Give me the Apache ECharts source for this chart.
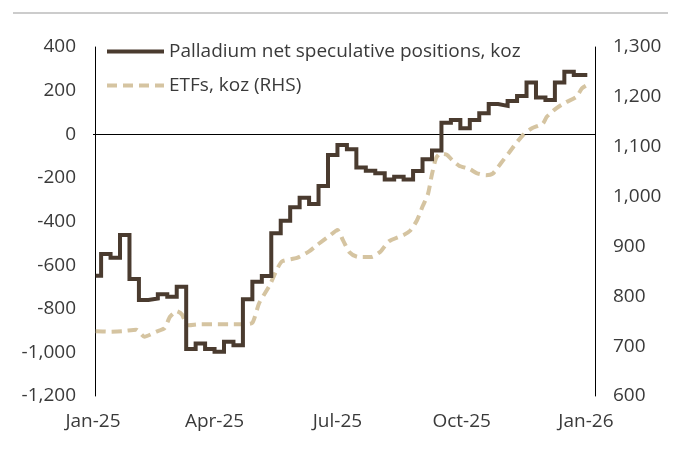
<!DOCTYPE html>
<html><head><meta charset="utf-8">
<script src="https://cdn.jsdelivr.net/npm/echarts@6/dist/echarts.min.js"></script>
<style>html,body{margin:0;padding:0;background:#fff}#c{width:683px;height:454px}</style>
</head><body><div id="c"></div>
<script>
const seriesNames = ['Palladium net speculative positions, koz', 'ETFs, koz (RHS)'];
const tickDates = ['2025-01-01','2025-04-01','2025-07-01','2025-10-01','2026-01-01'];
const posDates = ['2025-01-03','2025-01-07','2025-01-14','2025-01-21','2025-01-28','2025-02-04','2025-02-11','2025-02-18','2025-02-25','2025-03-04','2025-03-11','2025-03-18','2025-03-25','2025-04-01','2025-04-08','2025-04-15','2025-04-22','2025-04-29','2025-05-06','2025-05-13','2025-05-20','2025-05-27','2025-06-03','2025-06-10','2025-06-17','2025-06-24','2025-07-01','2025-07-08','2025-07-15','2025-07-22','2025-07-29','2025-08-05','2025-08-12','2025-08-19','2025-08-26','2025-09-02','2025-09-09','2025-09-16','2025-09-23','2025-09-30','2025-10-07','2025-10-14','2025-10-21','2025-10-28','2025-11-04','2025-11-11','2025-11-18','2025-11-25','2025-12-02','2025-12-09','2025-12-16','2025-12-23','2025-12-30','2026-01-02'];
const posValues = [-649,-549,-566,-462,-664,-760,-753,-734,-745,-699,-985,-959,-985,-997,-951,-967,-757,-676,-650,-454,-396,-335,-291,-320,-237,-95,-49,-69,-152,-167,-179,-207,-195,-207,-169,-115,-75,53,65,27,65,96,139,130,152,175,237,168,157,237,287,272,272,272];
const etfDates = ['2025-01-03','2025-01-13','2025-01-23','2025-02-02','2025-02-08','2025-02-17','2025-02-23','2025-02-27','2025-03-04','2025-03-08','2025-03-11','2025-03-13','2025-03-21','2025-04-01','2025-04-12','2025-04-22','2025-04-29','2025-05-04','2025-05-12','2025-05-17','2025-05-21','2025-06-01','2025-06-10','2025-06-16','2025-06-25','2025-07-01','2025-07-05','2025-07-10','2025-07-16','2025-07-26','2025-08-02','2025-08-08','2025-08-19','2025-08-24','2025-08-29','2025-09-02','2025-09-06','2025-09-09','2025-09-12','2025-09-15','2025-09-20','2025-09-24','2025-09-29','2025-10-07','2025-10-12','2025-10-19','2025-10-24','2025-10-30','2025-11-05','2025-11-10','2025-11-16','2025-11-22','2025-11-30','2025-12-03','2025-12-10','2025-12-17','2025-12-25','2025-12-29','2026-01-02'];
const etfValues = [730,729,730,733,719,729,736,759,770,763,743,742,744,744,744,744,747,786,823,853,870,877,890,903,921,933,913,888,879,879,890,910,923,932,953,980,1005,1045,1077,1086,1084,1073,1062,1055,1047,1043,1046,1067,1088,1106,1125,1137,1146,1160,1177,1189,1200,1217,1224];

const months = ['Jan','Feb','Mar','Apr','May','Jun','Jul','Aug','Sep','Oct','Nov','Dec'];
const FONT = "'Open Sans', sans-serif";
const TXT = '#3a3a3a';
const ts = s => { const p = s.split('-'); return new Date(+p[0], +p[1]-1, +p[2]).getTime(); };

const chart = echarts.init(document.getElementById('c'), null, {renderer:'canvas'});
chart.setOption({
  animation: false,
  textStyle: {fontFamily: FONT},
  grid: {left: 93, right: 88, top: 47, bottom: 58},
  graphic: [{type:'line', shape:{x1:13, y1:13, x2:668, y2:13}, style:{stroke:'#cccccc', lineWidth:2}, silent:true}],
  legend: {
    orient: 'vertical', left: 100, top: 37, itemWidth: 57, itemHeight: 20, itemGap: 15,
    itemStyle: {opacity: 0, borderWidth: 0},
    lineStyle: {width: 4},
    textStyle: {fontSize: 19, color: TXT, fontFamily: FONT},
    data: seriesNames
  },
  xAxis: {
    type: 'value',
    min: ts('2025-01-01'),
    max: ts('2026-01-01') + 6.7*86400000,
    axisLine: {show: false, onZero: false},
    axisTick: {show: false},
    splitLine: {show: false},
    axisLabel: {
      customValues: tickDates.map(ts),
      hideOverlap: false,
      margin: 16, fontSize: 19, color: TXT, fontFamily: FONT,
      formatter: v => { const d = new Date(v); return months[d.getMonth()] + '-' + String(d.getFullYear()).slice(2); }
    }
  },
  yAxis: [{
    type: 'value', min: -1200, max: 400, interval: 200, offset: -2,
    axisLine: {show: true, lineStyle: {color: '#000', width: 1}},
    axisTick: {show: false}, splitLine: {show: false},
    axisLabel: {margin: 19, fontSize: 19, color: TXT, fontFamily: FONT, formatter: v => v.toLocaleString('en-US')}
  }, {
    type: 'value', min: 600, max: 1300, interval: 100, position: 'right',
    axisLine: {show: true, lineStyle: {color: '#000', width: 1}},
    axisTick: {show: false}, splitLine: {show: false},
    axisLabel: {margin: 18, fontSize: 19, color: TXT, fontFamily: FONT, formatter: v => v.toLocaleString('en-US')}
  }],
  series: [{
    name: seriesNames[0], type: 'line', yAxisIndex: 0, step: 'end',
    symbol: 'none', z: 3,
    lineStyle: {color: '#4a3b2f', width: 4, join: 'miter'},
    itemStyle: {color: '#4a3b2f'},
    data: posDates.map((d, i) => [ts(d), posValues[i]]),
    markLine: {silent: true, symbol: 'none', label: {show: false}, z: 1,
      lineStyle: {color: '#000', width: 1.2, type: 'solid'}, data: [{yAxis: 0}]}
  }, {
    name: seriesNames[1], type: 'line', yAxisIndex: 1, symbol: 'none', smooth: 0.2, z: 2,
    lineStyle: {color: '#d5c4a1', width: 4, type: [10, 6]},
    itemStyle: {color: '#d5c4a1'},
    data: etfDates.map((d, i) => [ts(d), etfValues[i]])
  }]
});
</script></body></html>
